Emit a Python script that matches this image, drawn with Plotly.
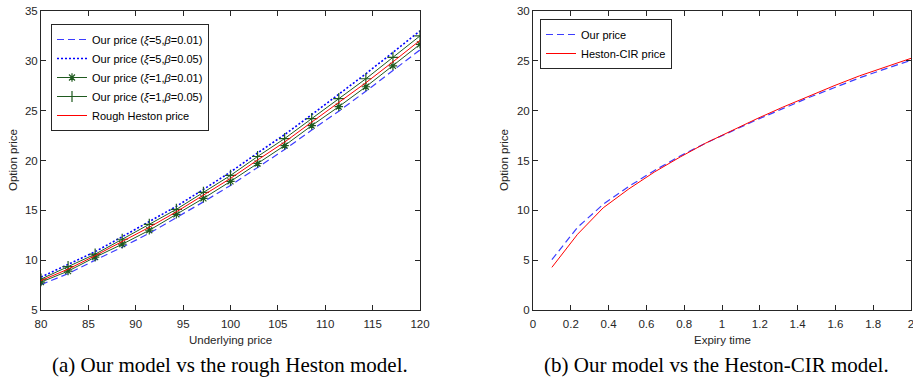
import plotly.graph_objects as go

# ---------------- data: panel (a) ----------------
underlying = [80.0, 82.857, 85.714, 88.571, 91.429, 94.286, 97.143, 100.0,
              102.857, 105.714, 108.571, 111.429, 114.286, 117.143, 120.0]
our_xi5_b001 = [7.55, 8.65, 10.0, 11.3, 12.7, 14.25, 15.85, 17.5,
                19.3, 21.1, 23.05, 24.95, 26.95, 29.0, 31.1]
our_xi5_b005 = [8.3, 9.55, 10.85, 12.35, 13.85, 15.4, 17.1, 18.85,
                20.75, 22.6, 24.6, 26.65, 28.7, 30.85, 33.0]
our_xi1_b001 = [7.8, 8.9, 10.3, 11.6, 13.0, 14.6, 16.2, 17.9,
                19.7, 21.5, 23.5, 25.4, 27.4, 29.5, 31.65]
our_xi1_b005 = [8.1, 9.35, 10.6, 12.1, 13.6, 15.1, 16.8, 18.5,
                20.4, 22.2, 24.2, 26.2, 28.2, 30.35, 32.5]
rough_heston = [7.95, 9.1, 10.45, 11.85, 13.3, 14.85, 16.5, 18.2,
                20.05, 21.85, 23.85, 25.8, 27.8, 29.9, 32.05]

# ---------------- data: panel (b) ----------------
expiry = [0.1, 0.2357, 0.3714, 0.5071, 0.6429, 0.7786, 0.9143, 1.05,
          1.1857, 1.3214, 1.4571, 1.5929, 1.7286, 1.8643, 2.0]
our_price_b = [5.05, 8.3, 10.6, 12.4, 14.0, 15.45, 16.75, 17.95,
               19.1, 20.2, 21.3, 22.3, 23.3, 24.2, 25.05]
heston_cir = [4.28, 7.6, 10.25, 12.15, 13.85, 15.35, 16.75, 18.0,
              19.2, 20.35, 21.45, 22.5, 23.5, 24.4, 25.25]

W, H = 913, 383
def px(x): return x / W
def py(y): return 1 - y / H

AX_COLOR = "#262626"
FONT = "Liberation Sans"
BLUE_DASH = "#3c3cff"
BLUE_DOT = "#0000ff"
GREEN = "#1f5a1f"
RED = "#ff0000"

fig = go.Figure()

# panel (a)
fig.add_trace(go.Scatter(x=underlying, y=our_xi5_b001, mode="lines",
                         name="Our price (<i>ξ</i>=5,<i>β</i>=0.01)",
                         line=dict(color=BLUE_DASH, width=1.2, dash="7px,4px"),
                         xaxis="x", yaxis="y", legend="legend"))
fig.add_trace(go.Scatter(x=underlying, y=our_xi5_b005, mode="lines",
                         name="Our price (<i>ξ</i>=5,<i>β</i>=0.05)",
                         line=dict(color=BLUE_DOT, width=1.6, dash="2px,2px"),
                         xaxis="x", yaxis="y", legend="legend"))
fig.add_trace(go.Scatter(x=underlying, y=our_xi1_b001, mode="lines+markers",
                         name="Our price (<i>ξ</i>=1,<i>β</i>=0.01)",
                         line=dict(color=GREEN, width=1),
                         marker=dict(symbol="asterisk-open", size=7,
                                     line=dict(color=GREEN, width=1.2)),
                         xaxis="x", yaxis="y", legend="legend"))
fig.add_trace(go.Scatter(x=underlying, y=our_xi1_b005, mode="lines+markers",
                         name="Our price (<i>ξ</i>=1,<i>β</i>=0.05)",
                         line=dict(color=GREEN, width=1),
                         marker=dict(symbol="cross-thin-open", size=8,
                                     line=dict(color=GREEN, width=1.2)),
                         xaxis="x", yaxis="y", legend="legend"))
fig.add_trace(go.Scatter(x=underlying, y=rough_heston, mode="lines",
                         name="Rough Heston price",
                         line=dict(color=RED, width=1),
                         xaxis="x", yaxis="y", legend="legend"))

# panel (b)
fig.add_trace(go.Scatter(x=expiry, y=our_price_b, mode="lines",
                         name="Our price",
                         line=dict(color=BLUE_DASH, width=1.2, dash="7px,4px"),
                         xaxis="x2", yaxis="y2", legend="legend2"))
fig.add_trace(go.Scatter(x=expiry, y=heston_cir, mode="lines",
                         name="Heston-CIR price",
                         line=dict(color=RED, width=1),
                         xaxis="x2", yaxis="y2", legend="legend2"))

axis_common = dict(showline=True, linecolor=AX_COLOR, linewidth=1, mirror="ticks",
                   ticks="inside", ticklen=5, tickcolor=AX_COLOR, tickwidth=1,
                   showgrid=False, zeroline=False, automargin=False,
                   ticklabeloverflow="allow",
                   tickfont=dict(family=FONT, size=11.5, color=AX_COLOR))

ydom = [py(310), py(11)]
fig.update_layout(
    width=W, height=H,
    margin=dict(l=0, r=0, t=0, b=0, autoexpand=False),
    paper_bgcolor="white", plot_bgcolor="white",
    font=dict(family=FONT, color=AX_COLOR),
    xaxis=dict(domain=[px(41), px(420)], range=[80, 120], dtick=5, tick0=80,
               anchor="y", ticklabelstandoff=3, **axis_common),
    yaxis=dict(domain=ydom, range=[5, 35], dtick=5, tick0=5, anchor="x",
               **axis_common),
    xaxis2=dict(domain=[px(533), px(911)], range=[0, 2], dtick=0.2, tick0=0,
                anchor="y2", ticklabelstandoff=3, **axis_common),
    yaxis2=dict(domain=ydom, range=[0, 30], dtick=5, tick0=0, anchor="x2",
                **axis_common),
    legend=dict(x=px(51), y=py(24), xanchor="left", yanchor="top",
                bordercolor=AX_COLOR, borderwidth=1, bgcolor="white",
                font=dict(family=FONT, size=11, color="black"),
                tracegroupgap=0),
    legend2=dict(x=px(540), y=py(19), xanchor="left", yanchor="top",
                 bordercolor=AX_COLOR, borderwidth=1, bgcolor="white",
                 font=dict(family=FONT, size=11, color="black"),
                 tracegroupgap=0),
    showlegend=True,
)

def note(text, x, y, size, family=FONT, color=AX_COLOR, angle=0):
    return dict(text=text, x=px(x), y=py(y), xref="paper", yref="paper",
                xanchor="center", yanchor="middle", showarrow=False,
                textangle=angle, font=dict(family=family, size=size, color=color))

ann = [
    note("Underlying price", 230.5, 340, 11.5),
    note("Expiry time", 722, 340, 11.5),
    note("Option price", 13, 160, 11.5, angle=-90),
    note("Option price", 504, 160, 11.5, angle=-90),
    note("(a) Our model vs the rough Heston model.", 230, 365, 21,
         family="Liberation Serif", color="black"),
    note("(b) Our model vs the Heston-CIR model.", 716.5, 365, 21,
         family="Liberation Serif", color="black"),
]
fig.update_layout(annotations=ann)

fig.write_html("out.html")
